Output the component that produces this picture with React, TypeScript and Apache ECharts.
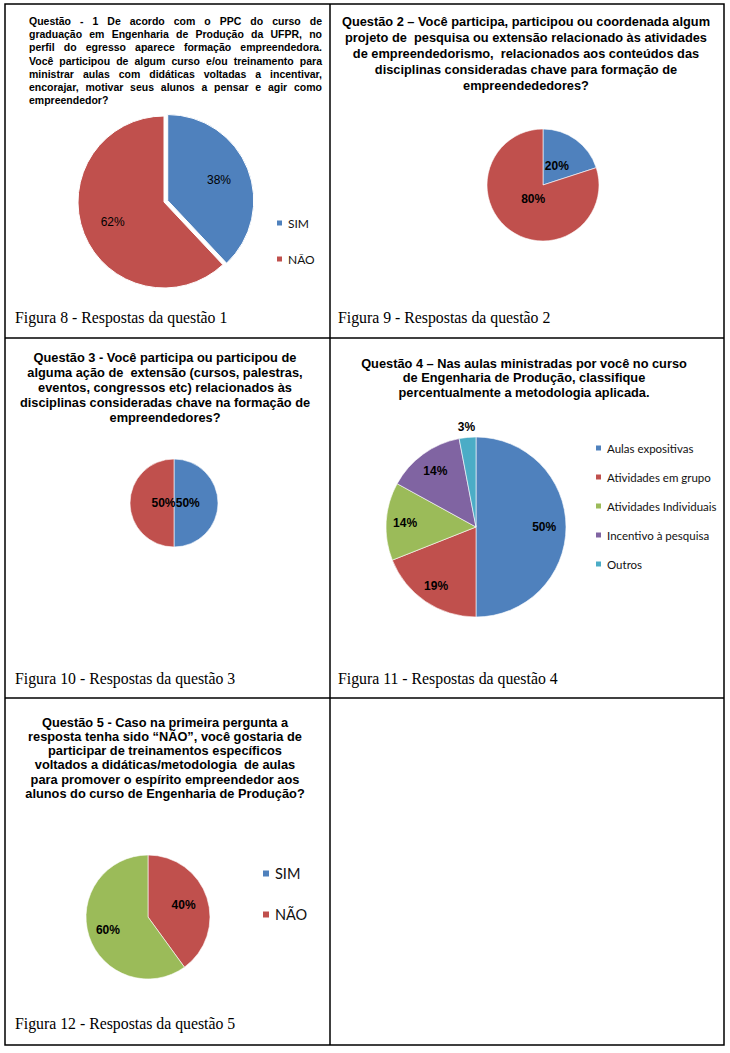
import React, { useEffect, useRef } from "react";
import * as echarts from "echarts";

const COLORS = ["#4F81BD", "#C0504D", "#9BBB59", "#8064A2", "#4BACC6"];

const q1Categories = ["SIM", "NÃO"];
const q1Values = [38, 62];
const q2Categories = ["SIM", "NÃO"];
const q2Values = [20, 80];
const q3Categories = ["SIM", "NÃO"];
const q3Values = [50, 50];
const q4Categories = [
  "Aulas expositivas",
  "Atividades em grupo",
  "Atividades Individuais",
  "Incentivo à pesquisa",
  "Outros",
];
const q4Values = [50, 19, 14, 14, 3];
const q5Categories = ["SIM", "NÃO", ""];
const q5Values = [0, 40, 60];
const q5Legend = ["SIM", "NÃO"];

const title1Lines = [
  "Questão - 1 De acordo com o PPC do curso de",
  "graduação em Engenharia de Produção da UFPR, no",
  "perfil do egresso aparece formação empreendedora.",
  "Você participou de algum curso e/ou treinamento para",
  "ministrar aulas com didáticas voltadas a incentivar,",
  "encorajar, motivar seus alunos a pensar e agir como",
  "empreendedor?",
];
const title2Lines = [
  "Questão 2 – Você participa, participou ou coordenada algum",
  "projeto de  pesquisa ou extensão relacionado às atividades",
  "de empreendedorismo,  relacionados aos conteúdos das",
  "disciplinas consideradas chave para formação de",
  "empreendededores?",
];
const title3Lines = [
  "Questão 3 - Você participa ou participou de",
  "alguma ação de  extensão (cursos, palestras,",
  "eventos, congressos etc) relacionados às",
  "disciplinas consideradas chave na formação de",
  "empreendedores?",
];
const title4Lines = [
  "Questão 4 – Nas aulas ministradas por você no curso",
  "de Engenharia de Produção, classifique",
  "percentualmente a metodologia aplicada.",
];
const title5Lines = [
  "Questão 5 - Caso na primeira pergunta a",
  "resposta tenha sido “NÃO”, você gostaria de",
  "participar de treinamentos específicos",
  "voltados a didáticas/metodologia  de aulas",
  "para promover o espírito empreendedor aos",
  "alunos do curso de Engenharia de Produção?",
];
const captions = [
  "Figura 8 - Respostas da questão 1",
  "Figura 9 - Respostas da questão 2",
  "Figura 10 - Respostas da questão 3",
  "Figura 11 - Respostas da questão 4",
  "Figura 12 - Respostas da questão 5",
];

const SANS = '"Liberation Sans", Arial, sans-serif';
const SERIF = '"Liberation Serif", "Times New Roman", serif';
const LEG = 'Lato, "Open Sans", sans-serif';
const TITLE_SIZE = 12.8;

function measure(text: string, font: string): number {
  const c = document.createElement("canvas").getContext("2d");
  if (!c) return text.length * 6;
  c.font = font;
  return c.measureText(text).width;
}

function centeredLines(lines: string[], cx: number, y0: number, step: number, size: number) {
  return lines.map((t, i) => ({
    type: "text",
    silent: true,
    style: {
      text: t,
      x: cx,
      y: y0 + i * step,
      font: `bold ${size}px ${SANS}`,
      fill: "#000",
      align: "center",
      verticalAlign: "middle",
    },
  }));
}

function justifiedLines(lines: string[], x0: number, x1: number, y0: number, step: number, size: number) {
  const font = `bold ${size}px ${SANS}`;
  const out: any[] = [];
  lines.forEach((line, i) => {
    const y = y0 + i * step;
    const words = line.split(" ").filter((w) => w.length);
    const last = i === lines.length - 1;
    if (last || words.length < 2) {
      out.push({
        type: "text",
        silent: true,
        style: { text: line, x: x0, y, font, fill: "#000", align: "left", verticalAlign: "middle" },
      });
      return;
    }
    const widths = words.map((w) => measure(w, font));
    const total = widths.reduce((a, b) => a + b, 0);
    const gap = (x1 - x0 - total) / (words.length - 1);
    let x = x0;
    words.forEach((w, j) => {
      out.push({
        type: "text",
        silent: true,
        style: { text: w, x, y, font, fill: "#000", align: "left", verticalAlign: "middle" },
      });
      x += widths[j] + gap;
    });
  });
  return out;
}

function pullLabels(cx: number, cy: number, fracs: number[]) {
  return (p: any) => {
    const r = p.labelRect;
    const lx = r.x + r.width / 2;
    const ly = r.y + r.height / 2;
    const k = (fracs[p.dataIndex] ?? 0.5) / 0.5;
    return { dx: (k - 1) * (lx - cx), dy: (k - 1) * (ly - cy) };
  };
}

function pieData(cats: string[], vals: number[]) {
  return cats.map((n, i) => ({
    name: n,
    value: vals[i],
    itemStyle: { color: COLORS[i] },
    label: vals[i] === 0 ? { show: false } : undefined,
  }));
}

function pieSeries(
  cats: string[],
  vals: number[],
  center: [number, number],
  radius: number,
  fracs: number[],
  bold: boolean,
  extra: any = {}
) {
  return {
    type: "pie",
    center,
    radius,
    startAngle: 90,
    clockwise: true,
    avoidLabelOverlap: false,
    silent: true,
    itemStyle: { borderColor: "#fff", borderWidth: 0.6 },
    label: {
      show: true,
      position: "inside",
      formatter: (p: any) => Math.round(p.percent) + "%",
      color: "#000",
      fontFamily: SANS,
      fontSize: 12,
      fontWeight: bold ? "bold" : "normal",
    },
    labelLine: { show: false },
    labelLayout: pullLabels(center[0], center[1], fracs),
    emphasis: { disabled: true },
    data: pieData(cats, vals),
    ...extra,
  };
}

export default function App() {
  const ref = useRef<HTMLDivElement>(null);

  useEffect(() => {
    if (!ref.current) return;
    const chart = echarts.init(ref.current, undefined, { renderer: "svg" });

    const p1 = pieSeries(q1Categories, q1Values, [164, 202], 86, [0.6, 0.6], false, {
      selectedMode: "single",
      selectedOffset: 4,
      itemStyle: { borderColor: "#fff", borderWidth: 1 },
    });
    (p1.data as any)[0].selected = true;

    const series = [
      p1,
      pieSeries(q2Categories, q2Values, [543, 185], 56, [0.38, 0.27], true),
      pieSeries(q3Categories, q3Values, [174, 503], 44, [0.275, 0.21], true),
      pieSeries(q4Categories, q4Values, [476, 527], 90, [0.71, 0.74, 0.74, 0.72, 1.05], true),
      pieSeries(q5Categories, q5Values, [148, 917], 62, [0.5, 0.55, 0.62], true),
    ];

    const graphic: any[] = [
      { type: "rect", silent: true, shape: { x: 5, y: 4, width: 719, height: 1041 }, style: { fill: "none", stroke: "#000", lineWidth: 1.5 } },
      { type: "line", silent: true, shape: { x1: 330, y1: 4, x2: 330, y2: 1045 }, style: { stroke: "#000", lineWidth: 1.5 } },
      { type: "line", silent: true, shape: { x1: 5, y1: 338, x2: 724, y2: 338 }, style: { stroke: "#000", lineWidth: 1.5 } },
      { type: "line", silent: true, shape: { x1: 5, y1: 698, x2: 724, y2: 698 }, style: { stroke: "#000", lineWidth: 1.5 } },
      ...justifiedLines(title1Lines, 29, 322, 21, 13.2, 10.5),
      ...centeredLines(title2Lines, 526, 21, 16, TITLE_SIZE),
      ...centeredLines(title3Lines, 165, 357, 15, TITLE_SIZE),
      ...centeredLines(title4Lines, 524, 363, 14.5, TITLE_SIZE),
      ...centeredLines(title5Lines, 165, 722, 14.3, TITLE_SIZE),
    ];
    const capPos: [number, number][] = [
      [15, 317],
      [338, 317],
      [15, 678],
      [338, 678],
      [15, 1023],
    ];
    captions.forEach((t, i) => {
      graphic.push({
        type: "text",
        silent: true,
        style: {
          text: t,
          x: capPos[i][0],
          y: capPos[i][1],
          font: `15.8px ${SERIF}`,
          fill: "#000",
          align: "left",
          verticalAlign: "middle",
        },
      });
    });

    chart.setOption({
      animation: false,
      backgroundColor: "#fff",
      legend: [
        {
          data: q1Categories,
          orient: "vertical",
          left: 270,
          top: 212,
          itemWidth: 7,
          itemHeight: 7,
          itemGap: 24,
          icon: "rect",
          selectedMode: false,
          textStyle: { fontFamily: LEG, fontSize: 12, color: "#111" },
        },
        {
          data: q4Categories,
          orient: "vertical",
          left: 589,
          top: 437,
          itemWidth: 7,
          itemHeight: 7,
          itemGap: 17,
          icon: "rect",
          selectedMode: false,
          textStyle: { fontFamily: LEG, fontSize: 11.5, color: "#111" },
        },
        {
          data: q5Legend,
          orient: "vertical",
          left: 256,
          top: 861,
          itemWidth: 8,
          itemHeight: 8,
          itemGap: 26,
          icon: "rect",
          selectedMode: false,
          textStyle: { fontFamily: LEG, fontSize: 14.5, color: "#111" },
        },
      ],
      series,
      graphic,
    });

    return () => chart.dispose();
  }, []);

  return (
    <div
      ref={ref}
      style={{ position: "absolute", left: 0, top: 0, width: 730, height: 1053, background: "#fff" }}
    />
  );
}
